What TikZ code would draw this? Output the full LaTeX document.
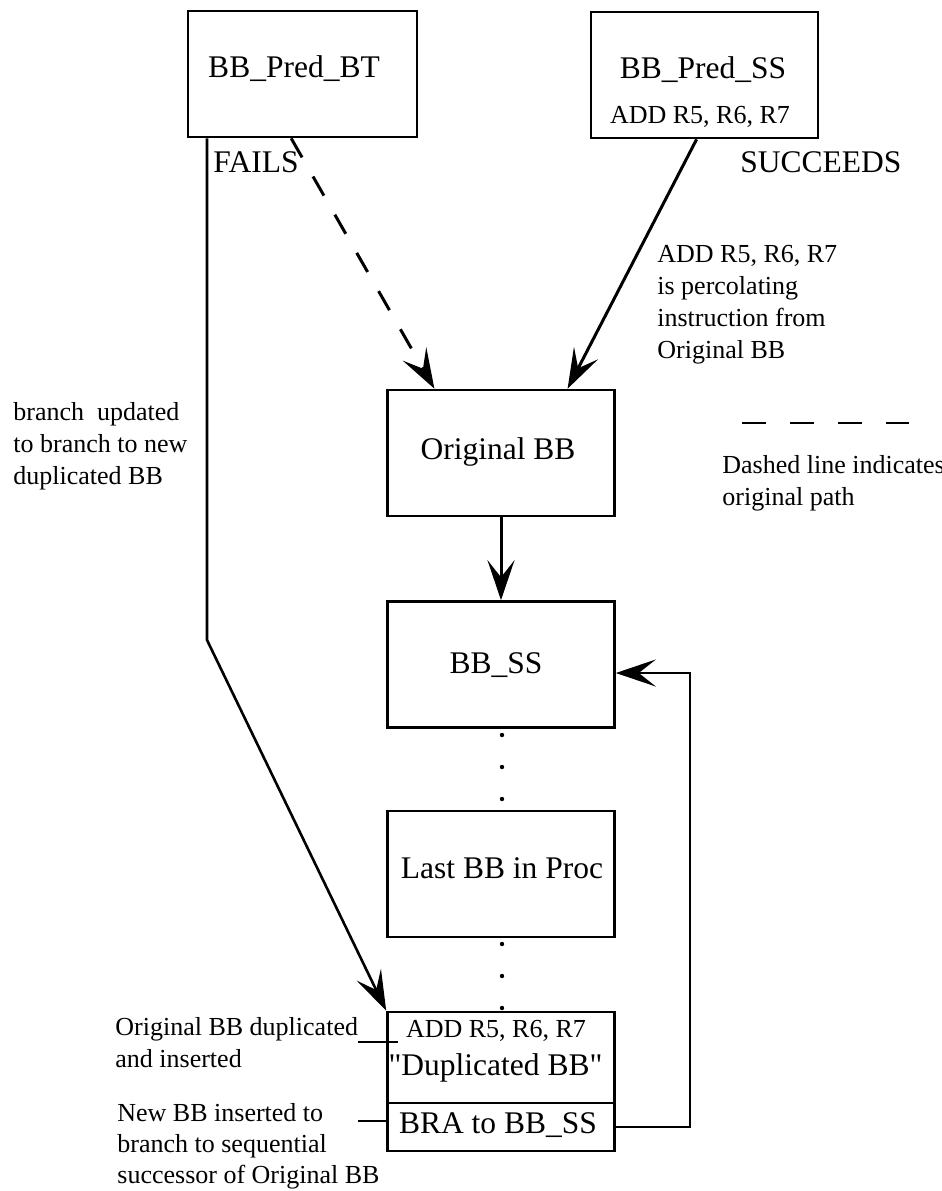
\documentclass[tikz,border=0pt]{standalone}
\usepackage{fontspec}
\setmainfont{Liberation Serif}
\newfontfamily\qfont[Ligatures=TeXOff]{Liberation Serif}
\usetikzlibrary{arrows.meta,calc}
\begin{document}
\begin{tikzpicture}[x=0.5pt,y=-0.5pt,
  box/.style={draw,line width=1.3pt,inner sep=0pt,minimum width=113.5pt,minimum height=63pt},
  bigtxt/.style={font=\fontsize{15.75}{19}\selectfont,inner sep=0pt},
  smalltxt/.style={font=\fontsize{13}{16}\selectfont,inner sep=0pt},
  arr/.style={line width=1.5pt,-{Stealth[length=20pt,width=13.5pt,inset=8.5pt]}},
  thinline/.style={line width=1.1pt}]
\useasboundingbox (0,0) rectangle (942,1191);

% boxes
\node[box,minimum width=114.5pt] (predBT) at (302.5,74) {};
\node[box] (predSS) at (704.5,75) {};
\node[box] (orig) at (501,453) {};
\node[box] (bbss) at (501,664.5) {};
\node[box] (last) at (501,874) {};
\node[box,minimum height=45.5pt] (dupT) at (501,1057.5) {};
\node[box,minimum height=24pt] (dupB) at (501,1127) {};

% box texts
\node[bigtxt,anchor=base] (tBT) at (294,77) {BB\_Pred\_BT};
\node[bigtxt,anchor=base] (tSS) at (703,78) {BB\_Pred\_SS};
\node[smalltxt,anchor=base] (tSSadd) at (700,123) {ADD R5, R6, R7};
\node[bigtxt,anchor=base] (tOrig) at (498,459) {Original BB};
\node[bigtxt,anchor=base] (tBBSS) at (496,673) {BB\_SS};
\node[bigtxt,anchor=base] (tLast) at (502,878) {Last BB in Proc};
\node[smalltxt,anchor=base] (tDupAdd) at (496,1037) {ADD R5, R6, R7};
\node[bigtxt,anchor=base] (tDup) at (495.5,1075) {{\qfont"}Duplicated BB{\qfont"}};
\node[bigtxt,anchor=base] (tBra) at (498,1133) {BRA to BB\_SS};

% free labels
\node[bigtxt,anchor=base west] (fails) at (213,172) {FAILS};
\node[bigtxt,anchor=base west] (succ) at (740,172) {SUCCEEDS};
\node[smalltxt,anchor=base west] (perc) at (657,262)
  {\vtop{\hbox{ADD R5, R6, R7}\hbox{is percolating}\hbox{instruction from}\hbox{Original BB}}};
\node[smalltxt,anchor=base west] (brupd) at (13,420)
  {\vtop{\hbox{branch\ \ updated}\hbox{to branch to new}\hbox{duplicated BB}}};
\node[smalltxt,anchor=base west] (legtxt) at (722,473)
  {\vtop{\hbox{Dashed line indicates}\hbox{original path}}};
\node[smalltxt,anchor=base west] (duptxt) at (115,1035)
  {\vtop{\hbox{Original BB duplicated}\hbox{and inserted}}};
\node[smalltxt,anchor=base west] (newtxt) at (117,1121)
  {\vtop{\baselineskip=15.5pt\hbox{New BB inserted to}\hbox{branch to sequential}\hbox{successor of Original BB}}};

% connectors
\draw[arr,dash pattern=on 11pt off 11pt] (predBT.260.5) -- (orig.136.3);
\draw[arr] (predSS.263.2) -- (orig.44.6);
\coordinate (bend) at (207,640);
\draw[arr,line width=1.3pt] (bend |- predBT.south) -- (bend) -- (dupT.north west);
\draw[arr] (orig.south) -- (bbss.north);
\draw[arr,line width=1.25pt] (dupB.east) -- ++(74,0) |- ([yshift=-4.25pt]bbss.east);

% dots
\foreach \yy in {735,767,799,944,976,1008} \fill (502,\yy) circle (1.1pt);

% legend dashed line
\coordinate (legA) at (742,423);
\coordinate (legB) at (909,423);
\draw[line width=1.2pt,dash pattern=on 12pt off 12pt] (legA) -- (legB);

% leaders
\coordinate (ldA) at (358,1042);
\coordinate (ldAe) at (398,1042);
\draw[thinline] (ldA) -- (ldAe);
\coordinate (ldB) at (358,1121);
\draw[thinline] (ldB) -- (ldB -| dupB.west);
\end{tikzpicture}
\end{document}
